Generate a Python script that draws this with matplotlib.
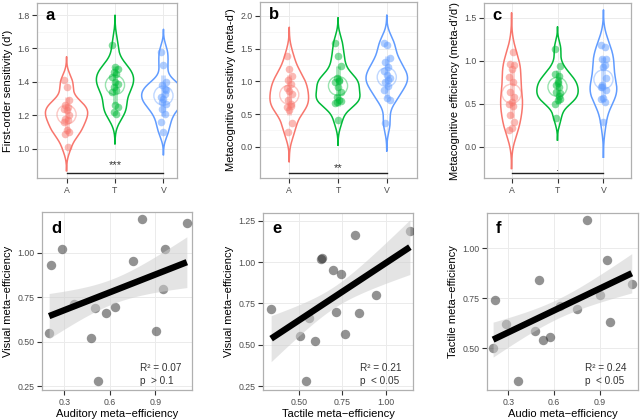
import numpy as np
import matplotlib
matplotlib.use("Agg")
import matplotlib.pyplot as plt

plt.rcParams["font.family"] = ["Liberation Sans", "DejaVu Sans"]

# ── Data ──────────────────────────────────────────────────────
groups = ["A", "T", "V"]
group_colors = ["#F8766D", "#00BA38", "#619CFF"]

# a) first-order sensitivity (d')
dprime_A = [1.41, 1.37, 1.29, 1.26, 1.25, 1.24, 1.23, 1.20, 1.18, 1.17, 1.16, 1.11, 1.10, 1.09, 1.01]
dprime_T = [1.62, 1.49, 1.48, 1.46, 1.45, 1.43, 1.40, 1.39, 1.37, 1.35, 1.34, 1.26, 1.25, 1.22, 1.21]
dprime_V = [1.58, 1.50, 1.40, 1.38, 1.36, 1.31, 1.30, 1.27, 1.24, 1.21, 1.16, 1.10, 1.35, 1.28, 1.33]

# b) metacognitive sensitivity (meta-d')
metad_A = [1.38, 1.18, 1.08, 1.02, 0.96, 0.90, 0.85, 0.80, 0.72, 0.66, 0.60, 0.56, 0.36, 0.22, 0.62]
metad_T = [1.59, 1.38, 1.23, 1.05, 1.02, 0.99, 0.91, 0.84, 0.76, 0.72, 0.67, 0.41, 0.70, 0.68, 1.00]
metad_V = [1.59, 1.55, 1.35, 1.30, 1.22, 1.15, 1.10, 1.05, 0.99, 0.93, 0.87, 0.74, 0.72, 0.36, 1.02]

# c-f) metacognitive efficiency per subject
eff_auditory = [0.200, 0.215, 0.284, 0.365, 0.477, 0.503, 0.524, 0.575, 0.637, 0.750, 0.814, 0.903, 0.949, 0.963, 1.108]
eff_tactile = [0.503, 0.741, 0.624, 0.337, 0.589, 0.843, 0.540, 0.558, 0.714, 0.696, 1.140, 0.766, 0.944, 0.632, 0.821]
eff_visual = [0.552, 0.930, 1.020, 0.715, 0.523, 0.693, 0.283, 0.662, 0.699, 0.952, 1.189, 0.562, 0.800, 1.023, 1.166]

sig_labels = ["***", "**", "."]
stats_labels = [("0.07", ">", "0.1"), ("0.21", "<", "0.05"), ("0.24", "<", "0.05")]

ticks_d_x = ["0.3", "0.6", "0.9"]
ticks_d_y = ["0.25", "0.50", "0.75", "1.00"]
ticks_e_x = ["0.50", "0.75", "1.00"]
ticks_e_y = ["0.25", "0.50", "0.75", "1.00", "1.25"]
ticks_f_x = ["0.3", "0.6", "0.9"]
ticks_f_y = ["0.50", "0.75", "1.00"]

GRID = "#ebebeb"
BORDER = "#b0b0b0"
BAND_MULT = 1.1  # width of the shaded band in standard errors
LABEL_FS = 8.0


def style_axes(ax):
    for s in ax.spines.values():
        s.set_color(BORDER)
        s.set_linewidth(0.9)
    ax.tick_params(length=3.5, width=0.8, color="#333333", labelsize=6.3,
                   labelcolor="#4d4d4d", pad=2)
    ax.grid(True, which="major", color=GRID, lw=0.7)
    ax.grid(True, which="minor", axis="y", color="#f4f4f4", lw=0.5)
    ax.tick_params(which="minor", length=0)
    ax.set_axisbelow(True)


def nrd0(x):
    x = np.asarray(x)
    iqr = np.subtract(*np.percentile(x, [75, 25]))
    lo = min(np.std(x, ddof=1), iqr / 1.34)
    return 0.9 * lo * len(x) ** -0.2


def kde(x, bw):
    x = np.asarray(x)
    grid = np.linspace(x.min() - 3 * bw, x.max() + 3 * bw, 300)
    dens = np.exp(-0.5 * ((grid[:, None] - x[None, :]) / bw) ** 2).sum(1)
    dens /= len(x) * bw * np.sqrt(2 * np.pi)
    return grid, dens


def violin_panel(ax, data, ylim, yticks, ylabel, letter, sig, sig_y, txt_y, xlim):
    curves = [kde(d, nrd0(d)) for d in data]
    scale = 0.45 / max(c[1].max() for c in curves)
    for i, (d, (g, dens), col) in enumerate(zip(data, curves, group_colors)):
        pos = i + 1
        w = dens * scale
        ax.plot(np.r_[pos - w, (pos + w)[::-1], pos - w[0]],
                np.r_[g, g[::-1], g[0]], color=col, lw=1.1, zorder=3)
        d = np.asarray(d)
        m, sd = d.mean(), d.std(ddof=1)
        ax.plot([pos, pos], [m - sd, m + sd], color=col, alpha=0.35, lw=3.5,
                solid_capstyle="butt", zorder=4)
        jit = ((np.arange(len(d)) * 7) % 5 - 2) * 0.028
        ax.scatter(pos + jit, d, s=30, color=col, alpha=0.5, lw=0, zorder=5)
        ax.scatter([pos], [m], s=190, facecolor="none", edgecolor=col,
                   alpha=0.4, lw=1.0, zorder=6)
    ax.plot([1, 3], [sig_y, sig_y], color="#222222", lw=1.0, zorder=7)
    ax.text(2, txt_y, sig, ha="center", va="center", fontsize=8, color="#333333")
    ax.set_xlim(*xlim)
    ax.set_ylim(*ylim)
    ax.set_xticks([1, 2, 3])
    ax.set_xticklabels(groups)
    ax.set_yticks(yticks)
    ax.set_yticks([(a + b) / 2 for a, b in zip(yticks[:-1], yticks[1:])], minor=True)
    ax.set_ylabel(ylabel, fontsize=LABEL_FS, labelpad=3)
    ax.text(0.06, 0.93, letter, transform=ax.transAxes, fontsize=12,
            fontweight="bold", va="center", ha="left")
    style_axes(ax)


def scatter_panel(ax, x, y, xlim, ylim, xticks, yticks, xlabel, ylabel, letter, st):
    x = np.asarray(x)
    y = np.asarray(y)
    ax.scatter(x, y, s=46, color="0.15", alpha=0.5, lw=0, zorder=3)
    b, a = np.polyfit(x, y, 1)
    xs = np.linspace(x.min(), x.max(), 100)
    fit = a + b * xs
    resid = y - (a + b * x)
    s = np.sqrt((resid ** 2).sum() / (len(x) - 2))
    se = s * np.sqrt(1 / len(x) + (xs - x.mean()) ** 2 / ((x - x.mean()) ** 2).sum())
    ax.fill_between(xs, fit - BAND_MULT * se, fit + BAND_MULT * se, color="#cfcfcf",
                    alpha=0.55, lw=0, zorder=4)
    ax.plot(xs, fit, color="black", lw=4.6, zorder=5, solid_capstyle="butt")
    ax.set_xlim(*xlim)
    ax.set_ylim(*ylim)
    ax.set_xticks([float(t) for t in xticks])
    ax.set_yticks([float(t) for t in yticks])
    ax.set_xticklabels(xticks)
    ax.set_yticklabels(yticks)
    ax.set_xlabel(xlabel, fontsize=LABEL_FS, labelpad=2)
    ax.set_ylabel(ylabel, fontsize=LABEL_FS, labelpad=3)
    ax.text(0.06, 0.91, letter, transform=ax.transAxes, fontsize=12,
            fontweight="bold", va="center", ha="left")
    ax.text(0.65, 0.125, f"R\u00b2 = {st[0]}", transform=ax.transAxes,
            fontsize=7.2, color="#333333", va="center")
    ax.text(0.65, 0.05, f"p  {st[1]} {st[2]}", transform=ax.transAxes,
            fontsize=7.2, color="#333333", va="center")
    style_axes(ax)


fig = plt.figure(figsize=(6.4, 4.2), dpi=100)

ax_a = fig.add_axes([37 / 640, 1 - 178 / 420, 140 / 640, 175 / 420])
ax_b = fig.add_axes([260 / 640, 1 - 178 / 420, 157 / 640, 176 / 420])
ax_c = fig.add_axes([484 / 640, 1 - 178 / 420, 147 / 640, 175 / 420])
ax_d = fig.add_axes([42 / 640, 1 - 390 / 420, 150 / 640, 178 / 420])
ax_e = fig.add_axes([263 / 640, 1 - 390 / 420, 150 / 640, 177 / 420])
ax_f = fig.add_axes([487 / 640, 1 - 390 / 420, 151 / 640, 177 / 420])

violin_panel(ax_a, [dprime_A, dprime_T, dprime_V], (0.825, 1.872),
             [1.0, 1.2, 1.4, 1.6, 1.8], "First-order sensitivity (d')", "a",
             sig_labels[0], 0.855, 0.90, (0.39, 3.28))
violin_panel(ax_b, [metad_A, metad_T, metad_V], (-0.477, 2.21),
             [0.0, 0.5, 1.0, 1.5, 2.0], "Metacognitive sensitivy (meta-d')", "b",
             sig_labels[1], -0.40, -0.33, (0.4, 3.62))
violin_panel(ax_c, [eff_auditory, eff_tactile, eff_visual], (-0.364, 1.674),
             [0.0, 0.5, 1.0, 1.5], "Metacognitive efficiency (meta-d'/d')", "c",
             sig_labels[2], -0.30, -0.245, (0.4, 3.6))

scatter_panel(ax_d, eff_auditory, eff_visual, (0.153, 1.142), (0.23, 1.23),
              ticks_d_x, ticks_d_y,
              "Auditory meta\u2212efficiency", "Visual meta\u2212efficiency", "d", stats_labels[0])
scatter_panel(ax_e, eff_tactile, eff_visual, (0.29, 1.158), (0.226, 1.297),
              ticks_e_x, ticks_e_y,
              "Tactile meta\u2212efficiency", "Visual meta\u2212efficiency", "e", stats_labels[1])
scatter_panel(ax_f, eff_auditory, eff_tactile, (0.16, 1.149), (0.292, 1.177),
              ticks_f_x, ticks_f_y,
              "Audio meta\u2212efficiency", "Tactile meta\u2212efficiency", "f", stats_labels[2])

fig.savefig("out.png", dpi=100)
